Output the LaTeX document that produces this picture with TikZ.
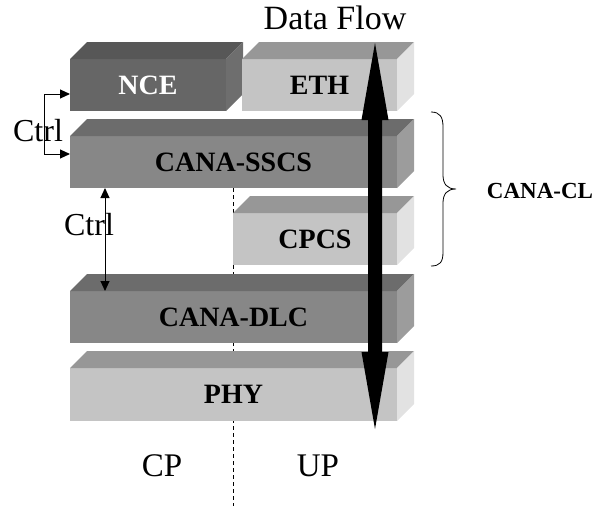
\documentclass[tikz,border=0pt]{standalone}
\usepackage{fontspec}
\setmainfont{Liberation Serif}
\usetikzlibrary{arrows.meta}

% shading for the three tones of blocks
\definecolor{darkfront}{HTML}{666666}
\definecolor{darktop}{HTML}{575757}
\definecolor{darkside}{HTML}{6E6E6E}
\definecolor{midfront}{HTML}{878787}
\definecolor{midtop}{HTML}{6C6C6C}
\definecolor{midside}{HTML}{9C9C9C}
\definecolor{lightfront}{HTML}{C4C4C4}
\definecolor{lighttop}{HTML}{979797}
\definecolor{lightside}{HTML}{E2E2E2}

\tikzset{
  blockface/.style={inner sep=0pt, outer sep=0pt, anchor=north west,
    font=\fontsize{28}{32}\selectfont\bfseries},
  plainlabel/.style={inner sep=0pt, font=\fontsize{33}{38}\selectfont},
  ctrllink/.style={line width=1pt, {Triangle[length=10pt,width=9pt]}-{Triangle[length=10pt,width=9pt]}},
  planeline/.style={line width=1pt, dash pattern=on 4pt off 3pt},
  flowarrow/.style={fill=black},
}

% a 3D block: name, x, y, width, height, tone, label, label colour
\newcommand\layerblock[8]{%
  \node[blockface, fill=#6front, text=#8, minimum width=#4pt, minimum height=#5pt] (#1) at (#2,#3) {#7};
  \fill[#6top] (#1.north west) -- ++(17,-17) -- ++(#4,0) -- (#1.north east) -- cycle;
  \fill[#6side] (#1.north east) -- ++(17,-17) -- ++(0,#5) -- (#1.south east) -- cycle;
}

\begin{document}
\begin{tikzpicture}[x=1pt, y=-1pt]
  \useasboundingbox (0,0) rectangle (613,506);

  % dividing line between control and user planes
  \coordinate (planetop) at (233.5,188);
  \coordinate (planebot) at (233.5,506);
  \draw[planeline] (planetop) -- (planebot);

  % protocol layers
  \layerblock{nce}{70}{59}{156}{52}{dark}{NCE}{white}
  \layerblock{eth}{242}{59}{155}{52}{light}{ETH}{black}
  \layerblock{sscs}{70}{136}{327}{52}{mid}{CANA-SSCS}{black}
  \layerblock{cpcs}{233}{213}{164}{52}{light}{CPCS}{black}
  \layerblock{dlc}{70}{291}{327}{52}{mid}{CANA-DLC}{black}
  \layerblock{phy}{70}{368}{327}{53}{light}{PHY}{black}

  % control links
  \node[plainlabel, font=\fontsize{32}{38}\selectfont] (ctrla) at (38,131) {Ctrl};
  \coordinate (ca) at (44,94);
  \coordinate (cb) at (44,154);
  \draw[ctrllink] (ca -| nce.west) -- (ca) -- (cb) -- (cb -| sscs.west);

  \node[plainlabel, font=\fontsize{32}{38}\selectfont] (ctrlb) at (89,225) {Ctrl};
  \coordinate (cc) at (105,240);
  \draw[ctrllink] (cc |- sscs.south) -- (cc |- dlc.north);

  % data flow through the user plane: a double-headed block arrow
  \node[plainlabel, font=\fontsize{34}{40}\selectfont] (flow) at (335,18) {Data Flow};
  \coordinate (flowtop) at (375,43);
  \coordinate (flowbot) at (375,429);
  \fill[flowarrow] (flowtop) -- ++(13.5,77) -- ++(-6.5,0) -- ++(0,232) -- ++(6.5,0)
    -- (flowbot) -- ++(-13.5,-77) -- ++(6.5,0) -- ++(0,-232) -- ++(-6.5,0) -- cycle;

  % convergence layer brace
  \draw[line width=0.8pt] (431,112) .. controls (440,112) and (443,117) .. (443,127)
    -- (443,175) .. controls (443,184) and (447,189) .. (456,189)
    .. controls (447,189) and (443,194) .. (443,203)
    -- (443,252) .. controls (443,262) and (440,266) .. (431,266);
  \node[inner sep=0pt, font=\fontsize{23}{28}\selectfont\bfseries] (cl) at (540,191) {CANA-CL};

  % plane labels
  \node[plainlabel] (cp) at (162,466) {CP};
  \node[plainlabel] (up) at (318,466) {UP};
\end{tikzpicture}
\end{document}
